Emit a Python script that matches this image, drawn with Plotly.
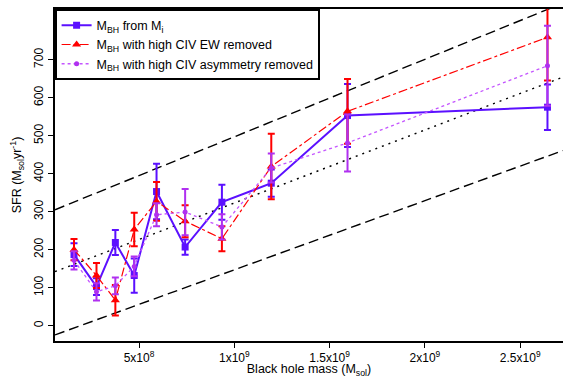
import plotly.graph_objects as go

# Data
mass = [1.59e8, 2.77e8, 3.76e8, 4.75e8, 5.92e8, 7.42e8, 9.35e8, 1.194e9, 1.594e9, 2.643e9]

sfr_mi = [187, 103, 219, 132, 353, 207, 325, 375, 553, 575]
err_mi = [30, 22, 33, 45, 73, 20, 46, 36, 83, 60]

sfr_ew = [200, 132, 67, 253, 327, 275, 229, 419, 564, 759]
err_ew = [28, 33, 40, 44, 51, 42, 33, 86, 85, 114]

sfr_asym = [172, 89, 105, 156, 292, 299, 260, 415, 481, 684]
err_asym = [24, 23, 22, 26, 30, 61, 33, 38, 75, 105]

# Reference relations: SFR = intercept + slope * M
rel_intercepts = [293, 131, -35]
rel_slopes = [2.04e-7, 1.92e-7, 1.82e-7]
rel_dash = ["dash", "dot", "dash"]

x_range = [5.93e7, 2.7245e9]
y_range = [-40.3, 833.4]

x_tickvals = [5e8, 1e9, 1.5e9, 2e9, 2.5e9]
x_ticktext = ["5x10<sup>8</sup>", "1x10<sup>9</sup>", "1.5x10<sup>9</sup>",
              "2x10<sup>9</sup>", "2.5x10<sup>9</sup>"]
y_tickvals = [0, 100, 200, 300, 400, 500, 600, 700]

BLUE = "#5B10FF"
RED = "#FF0000"
PURPLE = "#B030F0"
PURPLE_LINE = "#C455FF"

fig = go.Figure()

for a, b, d in zip(rel_intercepts, rel_slopes, rel_dash):
    fig.add_trace(go.Scatter(
        x=x_range, y=[a + b * x_range[0], a + b * x_range[1]],
        mode="lines", line=dict(color="black", width=1.4, dash="2px,5px" if d == "dot" else "10px,5px"),
        showlegend=False, hoverinfo="skip"))

fig.add_trace(go.Scatter(
    x=mass, y=sfr_mi, mode="lines+markers",
    name="M<sub>BH</sub> from M<sub>i</sub>",
    line=dict(color=BLUE, width=2),
    marker=dict(symbol="square", size=7, color=BLUE),
    error_y=dict(type="data", array=err_mi, color=BLUE, thickness=2, width=3.5)))

fig.add_trace(go.Scatter(
    x=mass, y=sfr_ew, mode="lines+markers",
    name="M<sub>BH</sub> with high CIV EW removed",
    line=dict(color=RED, width=1.2, dash="dashdot"),
    marker=dict(symbol="triangle-up", size=8, color=RED),
    error_y=dict(type="data", array=err_ew, color=RED, thickness=2, width=3.5)))

fig.add_trace(go.Scatter(
    x=mass, y=sfr_asym, mode="lines+markers",
    name="M<sub>BH</sub> with high CIV asymmetry removed",
    line=dict(color=PURPLE_LINE, width=1.3, dash="dot"),
    marker=dict(symbol="circle", size=5, color=PURPLE),
    error_y=dict(type="data", array=err_asym, color=PURPLE, thickness=2, width=3.5)))

font = "Liberation Sans, Arial, Helvetica, sans-serif"

fig.update_layout(
    width=563, height=378,
    margin=dict(l=55, r=0, t=9.3, b=37, autoexpand=False),
    paper_bgcolor="white", plot_bgcolor="white",
    font=dict(family=font, size=12, color="black"),
    showlegend=True,
    legend=dict(x=0, y=1, xanchor="left", yanchor="top",
                bgcolor="white", bordercolor="black", borderwidth=1.6,
                font=dict(size=12.5), tracegroupgap=0, itemwidth=30,
                traceorder="normal"),
    xaxis=dict(range=x_range, tickvals=x_tickvals, ticktext=x_ticktext,
               automargin=False,
               showgrid=False, zeroline=False, showline=True, linecolor="black",
               linewidth=1.5, mirror=True, ticks="outside", ticklen=5,
               tickcolor="black", tickfont=dict(size=12),
               title=dict(text="Black hole mass (M<sub>sol</sub>)", standoff=3,
                          font=dict(size=12.5))),
    yaxis=dict(range=y_range, tickvals=y_tickvals, tickangle=-90,
               automargin=False,
               showgrid=False, zeroline=False, showline=True, linecolor="black",
               linewidth=1.5, ticks="outside", ticklen=5, tickcolor="black",
               tickfont=dict(size=12),
               title=dict(text="SFR (M<sub>sol</sub>yr<sup>-1</sup>)", standoff=8,
                          font=dict(size=12.5))),
)

fig.write_html(
    "out.html",
    config={"displayModeBar": False},
    post_script="document.body.style.margin='0';document.body.style.overflow='hidden';",
)
